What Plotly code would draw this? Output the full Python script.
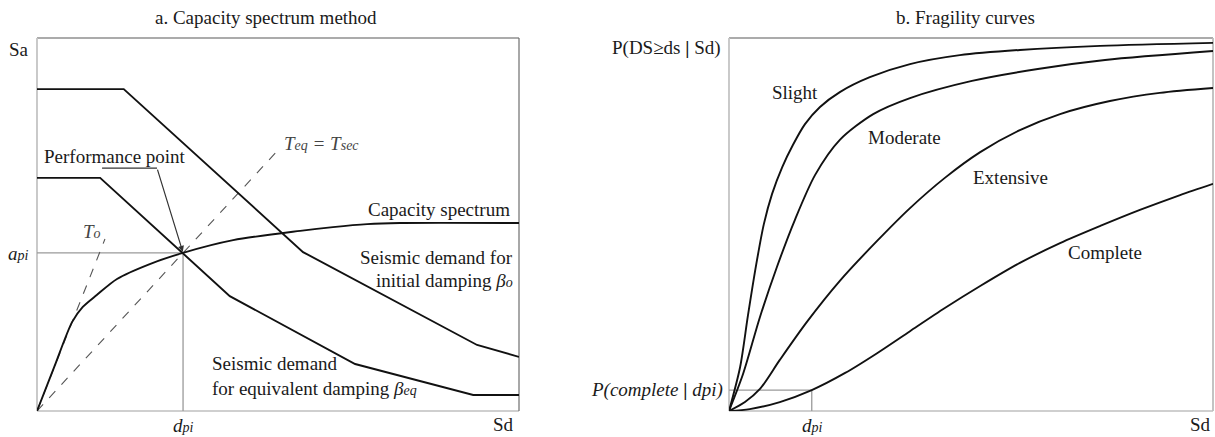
import plotly.graph_objects as go

# ---------------- Panel a: capacity spectrum method (normalised Sd, Sa) ----------------
cap_sd = [0, 0.036, 0.073, 0.095, 0.124, 0.166, 0.234, 0.303, 0.407, 0.546, 0.614, 0.685, 0.753, 1.0]
cap_sa = [0, 0.119, 0.239, 0.279, 0.311, 0.354, 0.394, 0.424, 0.458, 0.483, 0.493, 0.501, 0.504, 0.504]

demand0_sd = [0, 0.180, 0.552, 0.913, 1.0]
demand0_sa = [0.863, 0.863, 0.426, 0.177, 0.145]

demandeq_sd = [0, 0.131, 0.400, 0.660, 0.905, 1.0]
demandeq_sa = [0.625, 0.625, 0.308, 0.126, 0.043, 0.043]

t0_sd = [0, 0.141]
t0_sa = [0, 0.461]
teq_sd = [0, 0.502]
teq_sa = [0, 0.702]

dpi = 0.303
api = 0.424
leader_sd = [0.135, 0.249]
leader_sa = [0.651, 0.651]

# ---------------- Panel b: fragility curves (normalised Sd, probability) ----------------
slight_sd = [0, 0.023, 0.039, 0.056, 0.072, 0.089, 0.110, 0.132, 0.157, 0.188, 0.229, 0.291, 0.374, 0.477,
             0.601, 0.767, 1.0]
slight_p = [0, 0.118, 0.255, 0.391, 0.501, 0.582, 0.654, 0.713, 0.769, 0.815, 0.855, 0.895, 0.930, 0.954,
            0.968, 0.979, 0.987]

moderate_sd = [0, 0.029, 0.064, 0.099, 0.136, 0.178, 0.229, 0.298, 0.374, 0.502, 0.638, 0.777, 1.0]
moderate_p = [0, 0.099, 0.252, 0.386, 0.512, 0.633, 0.727, 0.796, 0.839, 0.885, 0.917, 0.941, 0.965]

extensive_sd = [0, 0.033, 0.064, 0.105, 0.161, 0.229, 0.306, 0.374, 0.446, 0.519, 0.601, 0.684, 0.787, 0.890,
                1.0]
extensive_p = [0, 0.024, 0.059, 0.137, 0.239, 0.349, 0.456, 0.544, 0.625, 0.694, 0.753, 0.796, 0.831, 0.853,
               0.866]

complete_sd = [0, 0.043, 0.105, 0.171, 0.240, 0.306, 0.374, 0.446, 0.519, 0.601, 0.684, 0.767, 0.849, 0.932,
               1.0]
complete_p = [0, 0.005, 0.024, 0.056, 0.102, 0.155, 0.214, 0.276, 0.335, 0.397, 0.450, 0.496, 0.539, 0.579,
              0.609]

dpi_b = 0.171
p_complete_dpi = 0.056

# ---------------- styling ----------------
FONT = "Liberation Serif"
TXT = "#1a1a1a"
FS = 19
BLACK = dict(color="#111111", width=1.9)
DASH = dict(color="#555555", width=1.1, dash="dash")
GRAY = dict(color="#9a9a9a", width=1.3)
W, H = 1215, 437


def sm(s, size=14):
    return f"<span style='font-size:{size}px'>{s}</span>"


fig = go.Figure()

# panel a traces
fig.add_trace(go.Scatter(x=[0, dpi, dpi], y=[api, api, 0], mode="lines", line=GRAY, xaxis="x", yaxis="y"))
fig.add_trace(go.Scatter(x=t0_sd, y=t0_sa, mode="lines", line=DASH, xaxis="x", yaxis="y"))
fig.add_trace(go.Scatter(x=teq_sd, y=teq_sa, mode="lines", line=DASH, xaxis="x", yaxis="y"))
fig.add_trace(go.Scatter(x=demand0_sd, y=demand0_sa, mode="lines", line=BLACK, xaxis="x", yaxis="y"))
fig.add_trace(go.Scatter(x=demandeq_sd, y=demandeq_sa, mode="lines", line=BLACK, xaxis="x", yaxis="y"))
fig.add_trace(go.Scatter(x=cap_sd, y=cap_sa, mode="lines", line=dict(BLACK, shape="spline", smoothing=0.8),
                         xaxis="x", yaxis="y"))
fig.add_trace(go.Scatter(x=leader_sd, y=leader_sa, mode="lines", line=dict(color="#333333", width=1.2),
                         xaxis="x", yaxis="y"))

# panel b traces
fig.add_trace(go.Scatter(x=[0, dpi_b, dpi_b], y=[p_complete_dpi, p_complete_dpi, 0], mode="lines", line=GRAY,
                         xaxis="x2", yaxis="y2"))
for xs, ys in [(slight_sd, slight_p), (moderate_sd, moderate_p), (extensive_sd, extensive_p),
               (complete_sd, complete_p)]:
    fig.add_trace(go.Scatter(x=xs, y=ys, mode="lines", line=dict(BLACK, shape="spline", smoothing=0.8),
                             xaxis="x2", yaxis="y2"))

ann = []


def A(text, x, y, xr="x", yr="y", xa="center", ya="middle", size=FS, color=TXT):
    ann.append(dict(text=text, x=x, y=y, xref=xr, yref=yr, xanchor=xa, yanchor=ya, showarrow=False,
                    font=dict(family=FONT, size=size, color=color)))


def AP(text, px, py, xa="center", size=FS, color=TXT):
    A(text, px / W, 1 - py / H, xr="paper", yr="paper", xa=xa, size=size, color=color)


# panel a annotations (outside plot area -> paper coords)
AP("a. Capacity spectrum method", 266, 18, size=19)
AP("Sa", 19, 50)
AP("<i>a" + sm("pi") + "</i>", 31, 253, xa="right")
AP("<i>d" + sm("pi") + "</i>", 183, 425)
AP("Sd", 503, 424)
# panel a annotations inside plot
A("<i>T" + sm("o") + "</i>", 0.114, 0.482, color="#444444")
A("<i>T" + sm("eq") + " = T" + sm("sec") + "</i>", 0.508, 0.718, xa="left", color="#444444")
A("Performance point", 0.010, 0.683, xa="left")
A("Capacity spectrum", 0.985, 0.541, xa="right")
A("Seismic demand for", 0.992, 0.412, xa="right")
A("initial damping <i>β" + sm("o") + "</i>", 0.992, 0.351, xa="right")
A("Seismic demand", 0.359, 0.128, xa="left")
A("for equivalent damping <i>β" + sm("eq") + "</i>", 0.359, 0.061, xa="left")
ann.append(dict(x=dpi, y=api, ax=leader_sd[1], ay=leader_sa[1], xref="x", yref="y", axref="x", ayref="y",
                text="", showarrow=True, arrowhead=2, arrowsize=1, arrowwidth=1.2, arrowcolor="#333333",
                standoff=1))

# panel b annotations
AP("b. Fragility curves", 965, 18, size=19)
AP("P(DS≥ds<b> | </b>Sd)", 723, 48, xa="right")
AP("<i>P(complete</i><b> | </b><i>dpi)</i>", 725, 390, xa="right")
AP("<i>d" + sm("pi") + "</i>", 812, 425)
AP("Sd", 1200, 424)
A("Slight", 0.136, 0.853, xr="x2", yr="y2")
A("Moderate", 0.362, 0.732, xr="x2", yr="y2")
A("Extensive", 0.581, 0.625, xr="x2", yr="y2")
A("Complete", 0.777, 0.426, xr="x2", yr="y2")

# frames
shapes = []


def side(xr, yr, x0, y0, x1, y1, color, width):
    shapes.append(dict(type="line", xref=xr, yref=yr, x0=x0, y0=y0, x1=x1, y1=y1,
                       line=dict(color=color, width=width), layer="below"))


for xr, yr, rc, rw in [("x domain", "y domain", "#6e6e6e", 1.2), ("x2 domain", "y2 domain", "#bdbdbd", 1.8)]:
    side(xr, yr, 0, 1, 1, 1, "#ababab", 2.2)
    side(xr, yr, 0, 0, 0, 1, "#c4c4c4", 1.8)
    side(xr, yr, 0, 0, 1, 0, "#cfcfcf", 1.8)
    side(xr, yr, 1, 0, 1, 1, rc, rw)

ax_common = dict(range=[0, 1], showgrid=False, zeroline=False, showticklabels=False, ticks="",
                 showline=False, fixedrange=True)

fig.update_layout(
    width=W, height=H,
    margin=dict(l=0, r=0, t=0, b=0),
    paper_bgcolor="white", plot_bgcolor="white",
    showlegend=False, hovermode=False,
    xaxis=dict(ax_common, domain=[37 / W, 519 / W]),
    yaxis=dict(ax_common, domain=[26 / H, 399 / H]),
    xaxis2=dict(ax_common, domain=[729 / W, 1213 / W], anchor="y2"),
    yaxis2=dict(ax_common, domain=[26 / H, 399 / H], anchor="x2"),
    annotations=ann, shapes=shapes,
    font=dict(family=FONT, size=FS, color=TXT),
)

fig.write_html("out.html", config={"displayModeBar": False},
               post_script="document.body.style.margin='0';document.body.style.overflow='hidden';")
